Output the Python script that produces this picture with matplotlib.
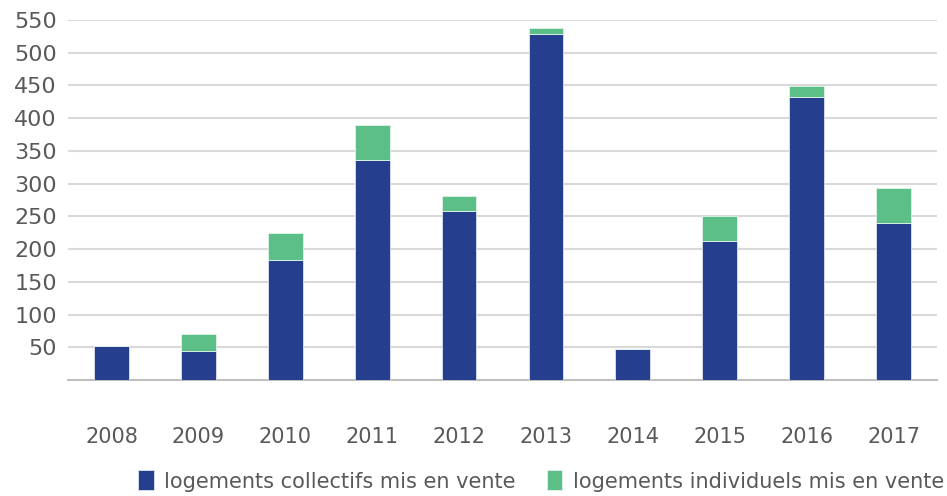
import matplotlib
matplotlib.use("Agg")
import matplotlib.pyplot as plt
import numpy as np

plt.rcParams['font.family'] = ['DejaVu Sans']

years = ["2008", "2009", "2010", "2011", "2012", "2013", "2014", "2015", "2016", "2017"]
collectifs = [52, 45, 184, 336, 258, 529, 48, 212, 433, 240]
individuels = [0, 25, 41, 54, 23, 9, 0, 38, 16, 54]
series_names = ["logements collectifs mis en vente", "logements individuels mis en vente"]
yticks = [50, 100, 150, 200, 250, 300, 350, 400, 450, 500, 550]

blue = "#253F8E"
green = "#5CBF87"
text_color = "#595959"

fig = plt.figure(figsize=(9.47, 4.96), dpi=100)
ax = fig.add_axes([68/947, 1 - 380/496, (937-68)/947, (380-20)/496])

x = np.arange(len(years))
w = 0.4
b1 = ax.bar(x, collectifs, width=w, color=blue, edgecolor="#dfe3ee", linewidth=0.6,
            label=series_names[0], zorder=3)
b2 = ax.bar(x, individuels, width=w, bottom=collectifs, color=green, edgecolor="#e3f3ea",
            linewidth=0.6, label=series_names[1], zorder=3)

ax.set_xlim(-0.5, len(years) - 0.5)
ax.set_ylim(0, 550)
ax.set_yticks(yticks)
ax.set_yticklabels([str(v) for v in yticks], fontsize=16, color=text_color)
ax.set_xticks(x)
ax.set_xticklabels(years, fontsize=15, color=text_color)
ax.tick_params(axis='both', length=0)
ax.tick_params(axis='x', pad=34)
ax.tick_params(axis='y', pad=8)
ax.grid(axis='y', color="#D9D9D9", linewidth=1.5, zorder=0)
for s in ["top", "right", "left"]:
    ax.spines[s].set_visible(False)
ax.spines["bottom"].set_color("#BFBFBF")
ax.spines["bottom"].set_linewidth(1.5)

leg = fig.legend(handles=[b1, b2], loc="center", bbox_to_anchor=(541/947, 1 - 481/496),
                 ncol=2, frameon=False, fontsize=15, handlelength=0.75, handleheight=1.1,
                 handletextpad=0.5, columnspacing=1.5)
for t in leg.get_texts():
    t.set_color(text_color)

fig.savefig("out.png", dpi=100)
